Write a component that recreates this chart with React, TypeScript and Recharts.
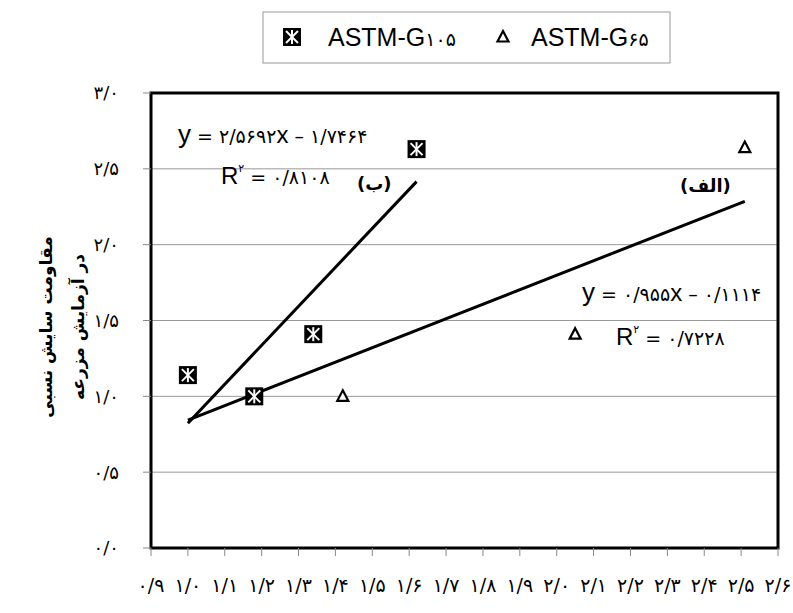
import React from "react";
import {
  ScatterChart,
  Scatter,
  XAxis,
  YAxis,
  CartesianGrid,
  ReferenceArea,
  ReferenceLine,
} from "recharts";

const g105X = [1.0, 1.18, 1.34, 1.62];
const g105Y = [1.14, 1.0, 1.41, 2.63];
const g65X = [1.0, 1.42, 2.05, 2.51];
const g65Y = [1.14, 1.0, 1.41, 2.64];

// trend lines: (ب) for G105, (الف) for G65
const trendSlope = [2.5692, 0.955];
const trendIntercept = [-1.7464, -0.1114];
const trendFrom = [1.0, 1.0];
const trendTo = [1.62, 2.51];

const xTicks = [0.9, 1.0, 1.1, 1.2, 1.3, 1.4, 1.5, 1.6, 1.7, 1.8, 1.9, 2.0, 2.1, 2.2, 2.3, 2.4, 2.5, 2.6];
const yTicks = [0, 0.5, 1.0, 1.5, 2.0, 2.5, 3.0];

const FONT = "'Liberation Sans', 'DejaVu Sans', Arial, sans-serif";
const FA_FONT = "'DejaVu Sans', sans-serif";

const toFa = (s: string) =>
  s.replace(/[0-9]/g, (d) => "۰۱۲۳۴۵۶۷۸۹"[+d]).replace(".", "/");

const g105 = g105X.map((x, i) => ({ x, y: g105Y[i] }));
const g65 = g65X.map((x, i) => ({ x, y: g65Y[i] }));

const SquareMark = ({ cx, cy }: any) => (
  <g>
    <rect x={cx - 9} y={cy - 9} width={18} height={18} fill="#000" />
    <line x1={cx} y1={cy - 7} x2={cx} y2={cy + 7} stroke="#fff" strokeWidth={2} />
    <line x1={cx - 6} y1={cy - 6} x2={cx + 6} y2={cy + 6} stroke="#fff" strokeWidth={2} />
    <line x1={cx + 6} y1={cy - 6} x2={cx - 6} y2={cy + 6} stroke="#fff" strokeWidth={2} />
  </g>
);

const TriMark = ({ cx, cy }: any) => (
  <polygon
    points={`${cx},${cy - 6} ${cx + 5.5},${cy + 4.5} ${cx - 5.5},${cy + 4.5}`}
    fill="#fff"
    stroke="#000"
    strokeWidth={2.2}
  />
);

const Overlay = () => (
  <svg
    width={793}
    height={613}
    style={{ position: "absolute", left: 0, top: 0, pointerEvents: "none" }}
  >
    {/* legend */}
    <rect x={263} y={12} width={407} height={51} fill="none" stroke="#999" />
    <SquareMark cx={292} cy={37} />
    <text x={328} y={46} fontFamily={FONT} fontSize={25} fill="#000">
      ASTM-G<tspan fontFamily={FA_FONT} fontSize={19}>{toFa("105")}</tspan>
    </text>
    <TriMark cx={503} cy={37} />
    <text x={531} y={46} fontFamily={FONT} fontSize={25} fill="#000">
      ASTM-G<tspan fontFamily={FA_FONT} fontSize={19}>{toFa("65")}</tspan>
    </text>

    {/* equations */}
    <text x={178} y={143} fontFamily={FONT} fill="#000">
      <tspan fontSize={26}>y</tspan>
      <tspan fontSize={19} fontFamily={FA_FONT}> = {toFa("2.5692")}</tspan>
      <tspan fontSize={24}>x</tspan>
      <tspan fontSize={19} fontFamily={FA_FONT}> – {toFa("1.7464")}</tspan>
    </text>
    <text x={221} y={184} fontFamily={FONT} fill="#000">
      <tspan fontSize={24}>R</tspan>
      <tspan fontSize={11} fontFamily={FA_FONT} dy={-12}>{toFa("2")}</tspan>
      <tspan fontSize={19} fontFamily={FA_FONT} dy={12}> = {toFa("0.8108")}</tspan>
    </text>
    <text x={357} y={190} fontFamily={FA_FONT} fontSize={18} fontWeight="bold" fill="#000">
      (ب)
    </text>
    <text x={680} y={192} fontFamily={FA_FONT} fontSize={18} fontWeight="bold" fill="#000">
      (الف)
    </text>
    <text x={582} y={301} fontFamily={FONT} fill="#000">
      <tspan fontSize={26}>y</tspan>
      <tspan fontSize={19} fontFamily={FA_FONT}> = {toFa("0.955")}</tspan>
      <tspan fontSize={24}>x</tspan>
      <tspan fontSize={19} fontFamily={FA_FONT}> – {toFa("0.1114")}</tspan>
    </text>
    <text x={616} y={345} fontFamily={FONT} fill="#000">
      <tspan fontSize={24}>R</tspan>
      <tspan fontSize={11} fontFamily={FA_FONT} dy={-12}>{toFa("2")}</tspan>
      <tspan fontSize={19} fontFamily={FA_FONT} dy={12}> = {toFa("0.7228")}</tspan>
    </text>

    {/* y axis title */}
    <text
      transform="translate(46,327) rotate(-90)"
      textAnchor="middle"
      dominantBaseline="central"
      fontFamily={FA_FONT}
      fontSize={17}
      fontWeight="bold"
      fill="#000"
    >
      مقاومت سایش نسبی
    </text>
    <text
      transform="translate(78,327) rotate(-90)"
      textAnchor="middle"
      dominantBaseline="central"
      fontFamily={FA_FONT}
      fontSize={17}
      fontWeight="bold"
      fill="#000"
    >
      در آزمایش مزرعه
    </text>
  </svg>
);

export default function App() {
  return (
    <div
      style={{
        position: "absolute",
        left: 0,
        top: 0,
        width: 793,
        height: 613,
        background: "#fff",
      }}
    >
      <ScatterChart
        width={793}
        height={613}
        margin={{ top: 93, right: 15, bottom: 25, left: 91 }}
      >
        <CartesianGrid vertical={false} stroke="#999" />
        <XAxis
          type="number"
          dataKey="x"
          domain={[0.9, 2.6]}
          ticks={xTicks}
          interval={0}
          allowDataOverflow
          height={40}
          axisLine={false}
          tickLine={{ stroke: "#888" }}
          tickSize={8}
          tickMargin={23}
          tickFormatter={(v: number) => toFa(v.toFixed(1))}
          tick={{ fontSize: 19, fill: "#000", fontFamily: FA_FONT }}
        />
        <YAxis
          type="number"
          dataKey="y"
          domain={[0, 3]}
          ticks={yTicks}
          interval={0}
          allowDataOverflow
          width={60}
          axisLine={false}
          tickLine={{ stroke: "#888" }}
          tickSize={8}
          tickMargin={24}
          tickFormatter={(v: number) => toFa(v.toFixed(1))}
          tick={{ fontSize: 18, fill: "#000", fontFamily: FA_FONT }}
        />
        <ReferenceArea
          x1={0.9}
          x2={2.6}
          y1={0}
          y2={3}
          fill="none"
          stroke="#000"
          strokeWidth={3}
          ifOverflow="visible"
        />
        {trendSlope.map((m, i) => (
          <ReferenceLine
            key={i}
            segment={[
              { x: trendFrom[i], y: m * trendFrom[i] + trendIntercept[i] },
              { x: trendTo[i], y: m * trendTo[i] + trendIntercept[i] },
            ]}
            stroke="#000"
            strokeWidth={3}
            ifOverflow="visible"
          />
        ))}
        <Scatter
          name="ASTM-G65"
          data={g65}
          shape={<TriMark />}
          isAnimationActive={false}
        />
        <Scatter
          name="ASTM-G105"
          data={g105}
          shape={<SquareMark />}
          isAnimationActive={false}
        />
      </ScatterChart>
      <Overlay />
    </div>
  );
}
